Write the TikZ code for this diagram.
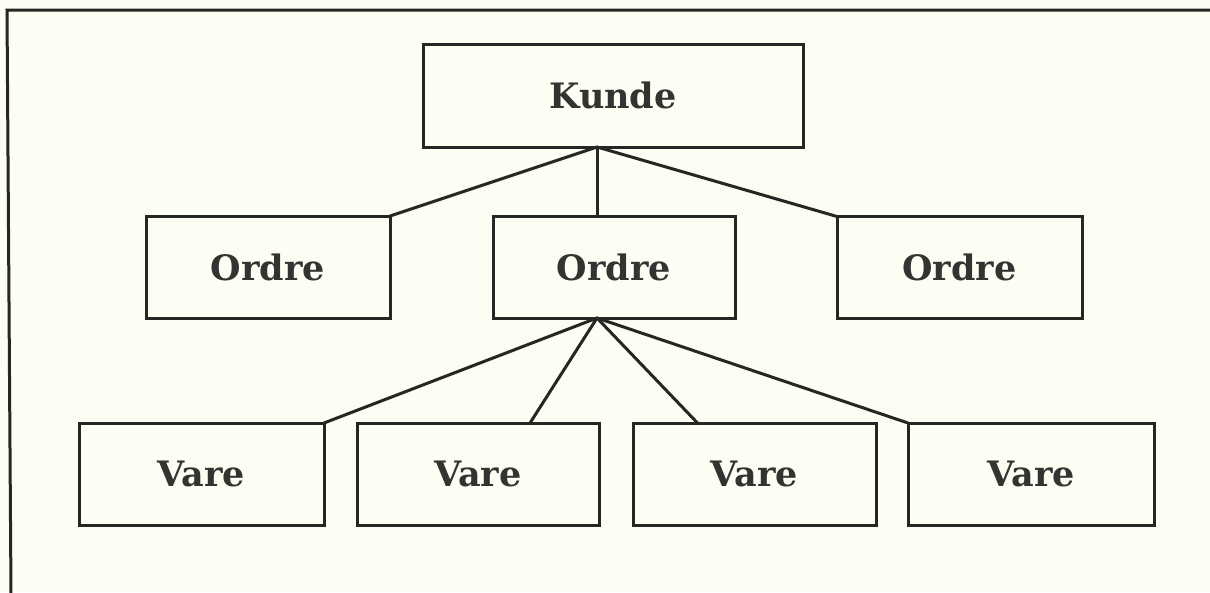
\documentclass[tikz,border=0pt]{standalone}
\usepackage{fontspec}
\newfontfamily\slabfont{DejaVu Serif}
\definecolor{paper}{HTML}{FDFDF4}
\definecolor{ink}{HTML}{262624}
\definecolor{txt}{HTML}{333331}
\begin{document}
\begin{tikzpicture}[x=1pt,y=-1pt,
  box/.style={draw=ink, line width=3pt, outer sep=0pt, inner sep=0pt,
    minimum height=102pt, text=txt, font=\slabfont\bfseries\fontsize{35}{41}\selectfont},
  link/.style={draw=ink, line width=3pt, line cap=round}]
\useasboundingbox (0,0) rectangle (1210,592);
\fill[paper] (0,0) rectangle (1210,592);
% scan frame (top and left edges)
\draw[ink, line width=3pt] (1212,10) -- (7,10) -- (11,594);
% nodes
\node[box, minimum width=380pt, minimum height=103pt] (kunde) at (613,95.5) {Kunde};
\node[box, minimum width=244pt] (o1) at (268,267) {Ordre};
\node[box, minimum width=242pt] (o2) at (614,267) {Ordre};
\node[box, minimum width=245pt] (o3) at (959.5,267.5) {Ordre};
\node[box, minimum width=245pt] (v1) at (201.5,474) {Vare};
\node[box, minimum width=242pt] (v2) at (478,474) {Vare};
\node[box, minimum width=243pt] (v3) at (754.5,474) {Vare};
\node[box, minimum width=246pt] (v4) at (1031,474) {Vare};
% connectors
\draw[link] ([xshift=-16pt]kunde.south) -- (o1.north east);
\draw[link] ([xshift=-16pt]kunde.south) -- ([xshift=-17pt]o2.north);
\draw[link] ([xshift=-16pt]kunde.south) -- (o3.north west);
\draw[link] ([xshift=-17pt]o2.south) -- (v1.north east);
\draw[link] ([xshift=-17pt]o2.south) -- ([xshift=52pt]v2.north);
\draw[link] ([xshift=-17pt]o2.south) -- ([xshift=-57pt]v3.north);
\draw[link] ([xshift=-17pt]o2.south) -- (v4.north west);
\end{tikzpicture}
\end{document}
